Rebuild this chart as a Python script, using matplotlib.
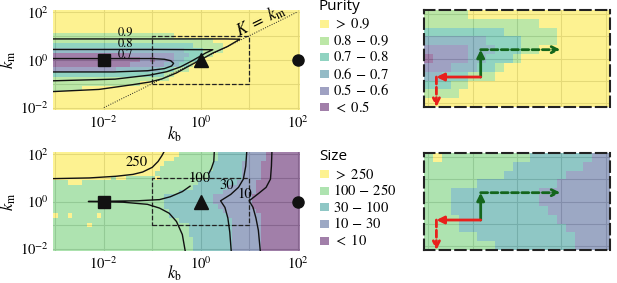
import numpy as np
import matplotlib
matplotlib.use("Agg")
import matplotlib.pyplot as plt
from matplotlib import colormaps
from matplotlib.colors import ListedColormap
from matplotlib.patches import Rectangle

plt.rcParams['mathtext.fontset'] = 'stix'
plt.rcParams['font.family'] = ['STIXGeneral', 'DejaVu Sans']

# parameter grid, log10 values (rows listed from top to bottom)
log_kb = np.round(np.linspace(-3, 2, 51), 2)
log_km = np.round(np.linspace(2, -2, 21), 2)

purity_labels = [r"$>\ 0.9$", r"$0.8\,-\,0.9$", r"$0.7\,-\,0.8$", r"$0.6\,-\,0.7$",
                 r"$0.5\,-\,0.6$", r"$<\ 0.5$"]
size_labels = [r"$>\ 250$", r"$100\,-\,250$", r"$30\,-\,100$", r"$10\,-\,30$", r"$<\ 10$"]

# class of each cell, run-length coded per row: (class, number of cells)
purity_runs = [
    [(0, 51)],
    [(0, 51)],
    [(0, 51)],
    [(0, 51)],
    [(0, 51)],
    [(1, 25), (0, 26)],
    [(1, 33), (0, 18)],
    [(2, 29), (1, 6), (0, 16)],
    [(3, 27), (2, 4), (1, 4), (0, 16)],
    [(5, 16), (4, 9), (3, 3), (2, 3), (1, 2), (0, 18)],
    [(5, 18), (4, 2), (5, 1), (4, 4), (3, 2), (2, 3), (1, 1), (0, 20)],
    [(5, 16), (4, 7), (3, 3), (2, 2), (1, 1), (0, 22)],
    [(4, 13), (3, 9), (2, 3), (1, 3), (0, 23)],
    [(2, 23), (1, 2), (0, 26)],
    [(1, 24), (0, 27)],
    [(1, 18), (0, 33)],
    [(1, 6), (0, 45)],
    [(0, 51)],
    [(0, 51)],
    [(0, 51)],
    [(0, 51)],
]

size_runs = [
    [(0, 26), (1, 8), (2, 6), (3, 4), (4, 7)],
    [(0, 25), (1, 9), (2, 6), (3, 4), (4, 7)],
    [(0, 23), (1, 10), (2, 6), (3, 4), (4, 8)],
    [(0, 22), (1, 11), (2, 6), (3, 4), (4, 8)],
    [(0, 21), (1, 11), (2, 7), (3, 4), (4, 8)],
    [(0, 12), (1, 1), (0, 2), (1, 6), (0, 1), (1, 10), (2, 7), (3, 4), (4, 8)],
    [(1, 3), (0, 3), (1, 24), (2, 8), (3, 4), (4, 9)],
    [(1, 29), (2, 7), (3, 6), (4, 9)],
    [(1, 26), (2, 9), (3, 7), (4, 9)],
    [(1, 23), (2, 10), (3, 8), (4, 10)],
    [(1, 23), (2, 10), (3, 8), (4, 10)],
    [(1, 23), (2, 11), (3, 7), (4, 10)],
    [(1, 24), (2, 11), (3, 7), (4, 9)],
    [(0, 1), (1, 2), (0, 1), (1, 5), (0, 1), (1, 14), (2, 12), (3, 7), (4, 8)],
    [(1, 26), (2, 11), (3, 6), (4, 8)],
    [(1, 7), (0, 1), (1, 20), (2, 9), (3, 6), (4, 8)],
    [(1, 28), (2, 9), (3, 6), (4, 8)],
    [(1, 28), (2, 9), (3, 6), (4, 8)],
    [(1, 29), (2, 8), (3, 6), (4, 8)],
    [(1, 29), (2, 8), (3, 6), (4, 8)],
    [(1, 29), (2, 8), (3, 6), (4, 8)],
]

# contour lines (log10 kb, log10 km)
pur_c90_x = [-3.05, -1.0, 0.5, 0.81, 0.55, 0.25, 0.0, -0.25, -0.5, -0.8, -1.05, -1.4, -2.1, -3.05]
pur_c90_y = [0.87, 0.87, 0.87, 0.86, 0.55, 0.28, 0.0, -0.27, -0.55, -0.8, -0.93, -1.04, -1.24, -1.33]
pur_c80_x = [-3.05, -1.0, 0.25, 0.1, 0.0, -0.2, -0.42, -0.7, -1.05, -1.77, -3.05]
pur_c80_y = [0.43, 0.43, 0.42, 0.28, 0.16, -0.07, -0.3, -0.5, -0.64, -0.81, -0.88]
pur_c70_x = [-3.05, -1.0, -0.75, -0.62, -0.56, -0.6, -0.75, -1.1, -1.8, -3.05]
pur_c70_y = [0.05, 0.05, 0.02, -0.04, -0.15, -0.26, -0.37, -0.46, -0.51, -0.51]
pur_label_txt = ["0.9", "0.8", "0.7"]
pur_label_x = [-1.56, -1.56, -1.56]
pur_label_y = [1.1, 0.64, 0.2]

size_c250_x = [-3.05, -2.3, -1.75, -1.4, -1.2, -1.0, -0.88, -0.8, -0.76]
size_c250_y = [0.97, 1.0, 1.07, 1.15, 1.25, 1.45, 1.7, 1.95, 2.1]
size_c100_x = [0.28, 0.27, 0.22, 0.17, np.nan, -0.22, -0.38, -0.63, -0.85, -1.3, -2.32,
               -1.6, -1.1, -0.85, -0.65, -0.5, -0.38, -0.32]
size_c100_y = [2.1, 1.7, 1.4, 1.2, np.nan, 0.65, 0.42, 0.2, 0.08, 0.03, 0.0,
               -0.03, -0.12, -0.28, -0.5, -0.85, -1.4, -2.1]
size_c30_x = [0.95, 0.93, 0.88, 0.78, 0.62, 0.41, 0.5, 0.56, 0.6, 0.63]
size_c30_y = [2.1, 1.5, 0.95, 0.6, 0.3, 0.03, -0.25, -0.7, -1.3, -2.1]
size_c10_x = [1.47, 1.46, 1.44, 1.35, 1.2, 1.0, 1.08, 1.14, 1.19, 1.23]
size_c10_y = [2.1, 1.5, 0.95, 0.6, 0.35, 0.03, -0.25, -0.7, -1.22, -2.1]
size_label_txt = ["250", "100", "30", "10"]
size_label_x = [-1.33, -0.02, 0.54, 0.9]
size_label_y = [1.67, 0.99, 0.68, 0.31]

# reference points (kb, km)
pts_kb = [1e-2, 1e0, 1e2]
pts_km = [1e0, 1e0, 1e0]

# arrows in the zoom panels (log10 kb, log10 km)
arrows = [
    ((-0.41, -0.42), (-0.41, 0.2), '#14661c', False),
    ((-0.41, 0.2), (0.49, 0.2), '#14661c', True),
    ((-0.41, -0.42), (-0.91, -0.42), '#e8201c', False),
    ((-0.91, -0.42), (-0.91, -1.1), '#e8201c', True),
]


def expand(runs):
    return np.array([sum([[c] * n for c, n in row], []) for row in runs])


pur = expand(purity_runs)
siz = expand(size_runs)

vir = colormaps['viridis']
pur_colors = vir(np.linspace(1, 0, 6))
size_colors = vir(np.linspace(1, 0, 5))
ALPHA = 0.5

W, H = 617, 283
fig = plt.figure(figsize=(W / 100, H / 100), dpi=100)


def box(l, t, r, b):
    return [l / W, 1 - b / H, (r - l) / W, (b - t) / H]


ax_p = fig.add_axes(box(53, 9.5, 300, 110))
ax_s = fig.add_axes(box(53, 152, 300, 251))
ax_pz = fig.add_axes(box(424, 10, 610, 107))
ax_sz = fig.add_axes(box(424, 153, 610, 250))

xe = np.append(log_kb - 0.05, log_kb[-1] + 0.05)
ys = log_km[::-1]
ye = np.append(ys - 0.1, ys[-1] + 0.1)

for ax, grid, cols in ((ax_p, pur, pur_colors), (ax_s, siz, size_colors)):
    ax.pcolormesh(10 ** xe, 10 ** ye, grid[::-1], cmap=ListedColormap(cols),
                  vmin=-0.5, vmax=len(cols) - 0.5, alpha=ALPHA,
                  edgecolors='none', antialiased=False, zorder=1)
    ax.set_xscale('log')
    ax.set_yscale('log')
    ax.set_xlim(10 ** xe[0], 10 ** xe[-1])
    ax.set_ylim(10 ** ye[0], 10 ** ye[-1])
    ax.set_xticks(10.0 ** np.arange(-3, 3))
    ax.set_xticklabels(['', '$10^{-2}$', '', '$10^{0}$', '', '$10^{2}$'])
    ax.set_yticks(10.0 ** np.arange(-2, 3))
    ax.set_yticklabels(['$10^{-2}$', '', '$10^{0}$', '', '$10^{2}$'])
    ax.minorticks_off()
    ax.tick_params(length=0, labelsize=10.5, pad=3)
    ax.grid(True, color='0.8', lw=0.8)
    ax.set_axisbelow(True)
    for sp in ax.spines.values():
        sp.set_visible(False)
    ax.add_patch(Rectangle((0.1, 0.1), 9.9, 9.9, fill=False, ls='--', lw=0.9,
                           color='#222222', zorder=2))
    ax.plot(pts_kb[:1], pts_km[:1], 's', color='#111111', ms=8.5, zorder=5, clip_on=False)
    ax.plot(pts_kb[1:2], pts_km[1:2], '^', color='#111111', ms=9.5, zorder=5, clip_on=False)
    ax.plot(pts_kb[2:], pts_km[2:], 'o', color='#111111', ms=8, zorder=5, clip_on=False)
    ax.set_xlabel('$k_\\mathrm{b}$', fontsize=12)
    ax.set_ylabel('$k_\\mathrm{m}$', fontsize=12)
    ax.xaxis.set_label_coords(0.49, -0.145)
    ax.yaxis.set_label_coords(-0.14, 0.5)
ax_s.xaxis.set_label_coords(0.49, -0.125)

# purity contours
for cx, cy in ((pur_c90_x, pur_c90_y), (pur_c80_x, pur_c80_y), (pur_c70_x, pur_c70_y)):
    ax_p.plot(10 ** np.array(cx), 10 ** np.array(cy), color='#111111', lw=1.0, zorder=3)
for t, x, y in zip(pur_label_txt, pur_label_x, pur_label_y):
    ax_p.text(10 ** x, 10 ** y, t, fontsize=9, ha='center', va='center', zorder=4)

ax_p.plot([1e-2, 1e2], [1e-2, 1e2], color='#222222', ls=(0, (1, 1.5)), lw=0.7, zorder=3)
p1 = ax_p.transData.transform((1e-2, 1e-2))
p2 = ax_p.transData.transform((1e2, 1e2))
ang = np.degrees(np.arctan2(p2[1] - p1[1], p2[0] - p1[0]))
ax_p.text(10 ** 1.24, 10 ** 1.66, r'$K\ =\ k_\mathrm{m}$', fontsize=12, rotation=ang,
          ha='center', va='center', rotation_mode='anchor', zorder=4)

# size contours
for cx, cy in ((size_c250_x, size_c250_y), (size_c100_x, size_c100_y),
               (size_c30_x, size_c30_y), (size_c10_x, size_c10_y)):
    ax_s.plot(10 ** np.array(cx), 10 ** np.array(cy), color='#111111', lw=1.0, zorder=3)
for t, x, y in zip(size_label_txt, size_label_x, size_label_y):
    ax_s.text(10 ** x, 10 ** y, t, fontsize=10.5, ha='center', va='center', zorder=4)

# zoomed panels: same grid, cut to the dashed box
zx = np.append(log_kb[20:41] - 0.05, log_kb[40] + 0.05)
zy_c = log_km[5:16][::-1]
zy = np.append(zy_c - 0.1, zy_c[-1] + 0.1)
for ax, grid, cols in ((ax_pz, pur, pur_colors), (ax_sz, siz, size_colors)):
    ax.pcolormesh(zx, zy, grid[5:16, 20:41][::-1], cmap=ListedColormap(cols),
                  vmin=-0.5, vmax=len(cols) - 0.5, alpha=ALPHA,
                  edgecolors='none', antialiased=False, zorder=1)
    ax.set_xlim(zx[0], zx[-1])
    ax.set_ylim(zy[0], zy[-1])
    ax.set_xticks([-1, -0.5, 0, 0.5, 1])
    ax.set_yticks([-1, -0.5, 0, 0.5, 1])
    ax.set_xticklabels([])
    ax.set_yticklabels([])
    ax.tick_params(length=0)
    ax.grid(True, color='0.8', lw=0.8)
    ax.set_axisbelow(True)
    for sp in ax.spines.values():
        sp.set_linestyle((0, (5, 2.5)))
        sp.set_linewidth(1.5)
        sp.set_edgecolor('#222222')
        sp.set_zorder(6)
    for p0, p1_, col, dashed in arrows:
        ax.annotate('', xy=p1_, xytext=p0,
                    arrowprops=dict(arrowstyle='->' if dashed else '-|>', color=col,
                                    lw=2.0, ls=(0, (2.5, 1.2)) if dashed else '-',
                                    shrinkA=0, shrinkB=0, mutation_scale=11),
                    zorder=5, annotation_clip=False)


def legend(title, labels, colors, py_title, py_rows):
    fig.text(319 / W, 1 - py_title / H, title, family='Open Sans', fontsize=11,
             ha='left', va='center')
    for lab, col, py in zip(labels, colors, py_rows):
        fig.add_artist(Rectangle((320 / W, 1 - (py + 4) / H), 8.5 / W, 8 / H,
                                 transform=fig.transFigure, facecolor=col, alpha=ALPHA,
                                 edgecolor='none'))
        fig.text(333 / W, 1 - py / H, lab, fontsize=10.5, ha='left', va='center')


legend('Purity', purity_labels, pur_colors, 6.5, [24, 40.7, 57.3, 74, 90.7, 107.3])
legend('Size', size_labels, size_colors, 157, [174, 190.7, 207.3, 224, 240.7])

fig.savefig('out.png', dpi=100)
